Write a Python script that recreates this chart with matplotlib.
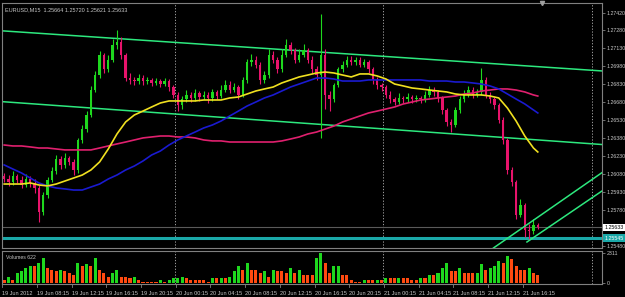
import numpy as np
import matplotlib.pyplot as plt
from matplotlib.transforms import blended_transform_factory

plt.rcParams['font.family'] = ['Liberation Sans', 'DejaVu Sans']

# EURUSD M15 - velas (cada vela del grafico agrupa dos barras de 15 min)
opens = [1.2606, 1.2604, 1.2601, 1.2606, 1.2603, 1.2599, 1.2604, 1.2600, 1.2596, 1.2576,
         1.2590, 1.2603, 1.2610, 1.2620, 1.2615, 1.2621, 1.2618, 1.2611, 1.2636, 1.2645,
         1.2657, 1.2678, 1.2690, 1.2707, 1.2695, 1.2703, 1.2715, 1.2718, 1.2707, 1.2688,
         1.2686, 1.2685, 1.2688, 1.2685, 1.2686, 1.2684, 1.2685, 1.2683, 1.2685, 1.2680,
         1.2674, 1.2665, 1.2670, 1.2674, 1.2671, 1.2675, 1.2672, 1.2674, 1.2671, 1.2676,
         1.2673, 1.2678, 1.2682, 1.2678, 1.2680, 1.2674, 1.2686, 1.2701, 1.2703, 1.2699,
         1.2686, 1.2690, 1.2707, 1.2703, 1.2695, 1.2707, 1.2715, 1.2711, 1.2703, 1.2707,
         1.2711, 1.2703, 1.2695, 1.2690, 1.2707, 1.2674, 1.2670, 1.2682, 1.2695, 1.2699,
         1.2703, 1.2701, 1.2703, 1.2699, 1.2701, 1.2695, 1.2686, 1.2682, 1.2680, 1.2674,
         1.2670, 1.2668, 1.2671, 1.2670, 1.2672, 1.2670, 1.2671, 1.2670, 1.2674, 1.2678,
         1.2676, 1.2671, 1.2661, 1.2651, 1.2649, 1.2661, 1.2670, 1.2674, 1.2678, 1.2674,
         1.2676, 1.2686, 1.2674, 1.2670, 1.2665, 1.2653, 1.2636, 1.2611, 1.2601, 1.2574,
         1.2582, 1.2561, 1.2560, 1.2565]
closes = [1.2604, 1.2601, 1.2606, 1.2603, 1.2599, 1.2604, 1.2600, 1.2596, 1.2576, 1.2590,
          1.2603, 1.2610, 1.2620, 1.2615, 1.2621, 1.2618, 1.2611, 1.2636, 1.2645, 1.2657,
          1.2678, 1.2690, 1.2707, 1.2695, 1.2703, 1.2715, 1.2718, 1.2707, 1.2688, 1.2686,
          1.2685, 1.2688, 1.2685, 1.2686, 1.2684, 1.2685, 1.2683, 1.2685, 1.2680, 1.2674,
          1.2665, 1.2670, 1.2674, 1.2671, 1.2675, 1.2672, 1.2674, 1.2671, 1.2676, 1.2673,
          1.2678, 1.2682, 1.2678, 1.2680, 1.2674, 1.2686, 1.2701, 1.2703, 1.2699, 1.2686,
          1.2690, 1.2707, 1.2703, 1.2695, 1.2707, 1.2715, 1.2711, 1.2703, 1.2707, 1.2711,
          1.2703, 1.2695, 1.2690, 1.2707, 1.2674, 1.2670, 1.2682, 1.2695, 1.2699, 1.2703,
          1.2701, 1.2703, 1.2699, 1.2701, 1.2695, 1.2686, 1.2682, 1.2680, 1.2674, 1.2670,
          1.2668, 1.2671, 1.2670, 1.2672, 1.2670, 1.2671, 1.2670, 1.2674, 1.2678, 1.2676,
          1.2671, 1.2661, 1.2651, 1.2649, 1.2661, 1.2670, 1.2674, 1.2678, 1.2674, 1.2676,
          1.2686, 1.2674, 1.2670, 1.2665, 1.2653, 1.2636, 1.2611, 1.2601, 1.2574, 1.2582,
          1.2561, 1.2560, 1.2565, 1.25633]
highs = [1.2609, 1.2607, 1.2610, 1.2608, 1.2606, 1.2608, 1.2606, 1.2604, 1.2599, 1.2593,
         1.2605, 1.2614, 1.2624, 1.2623, 1.2625, 1.2623, 1.2620, 1.2638, 1.2649, 1.2660,
         1.2681, 1.2694, 1.2710, 1.2709, 1.2707, 1.2720, 1.2728, 1.2722, 1.2709, 1.2692,
         1.2689, 1.2691, 1.2690, 1.2689, 1.2688, 1.2688, 1.2687, 1.2688, 1.2687, 1.2682,
         1.2676, 1.2673, 1.2678, 1.2676, 1.2679, 1.2677, 1.2677, 1.2676, 1.2679, 1.2678,
         1.2682, 1.2686, 1.2685, 1.2684, 1.2682, 1.2689, 1.2704, 1.2708, 1.2706, 1.2701,
         1.2694, 1.2712, 1.2710, 1.2705, 1.2712, 1.2720, 1.2718, 1.2713, 1.2712, 1.2716,
         1.2713, 1.2706, 1.2698, 1.2741, 1.2712, 1.2677, 1.2684, 1.2697, 1.2702, 1.2706,
         1.2706, 1.2705, 1.2705, 1.2704, 1.2703, 1.2697, 1.2689, 1.2684, 1.2682, 1.2677,
         1.2672, 1.2675, 1.2673, 1.2675, 1.2674, 1.2674, 1.2673, 1.2677, 1.2681, 1.2680,
         1.2678, 1.2673, 1.2663, 1.2654, 1.2664, 1.2673, 1.2678, 1.2681, 1.2680, 1.2679,
         1.2696, 1.2689, 1.2676, 1.2672, 1.2667, 1.2655, 1.2638, 1.2614, 1.2603, 1.2587,
         1.2584, 1.2566, 1.2570, 1.2567]
lows = [1.2601, 1.2598, 1.2599, 1.2600, 1.2596, 1.2597, 1.2597, 1.2592, 1.2568, 1.2574,
        1.2588, 1.2601, 1.2608, 1.2612, 1.2613, 1.2615, 1.2607, 1.2609, 1.2634, 1.2643,
        1.2655, 1.2676, 1.2688, 1.2692, 1.2693, 1.2701, 1.2712, 1.2704, 1.2685, 1.2683,
        1.2682, 1.2683, 1.2682, 1.2683, 1.2681, 1.2682, 1.2680, 1.2681, 1.2677, 1.2671,
        1.2660, 1.2662, 1.2668, 1.2668, 1.2669, 1.2669, 1.2670, 1.2667, 1.2669, 1.2670,
        1.2671, 1.2676, 1.2675, 1.2676, 1.2670, 1.2672, 1.2684, 1.2698, 1.2696, 1.2683,
        1.2684, 1.2688, 1.2700, 1.2692, 1.2693, 1.2705, 1.2708, 1.2700, 1.2701, 1.2705,
        1.2700, 1.2692, 1.2686, 1.2638, 1.2662, 1.2660, 1.2668, 1.2680, 1.2693, 1.2697,
        1.2699, 1.2699, 1.2697, 1.2697, 1.2692, 1.2683, 1.2679, 1.2677, 1.2671, 1.2667,
        1.2665, 1.2666, 1.2667, 1.2668, 1.2667, 1.2668, 1.2667, 1.2668, 1.2672, 1.2673,
        1.2668, 1.2658, 1.2648, 1.2643, 1.2647, 1.2659, 1.2668, 1.2672, 1.2671, 1.2672,
        1.2674, 1.2671, 1.2667, 1.2662, 1.2650, 1.2633, 1.2608, 1.2598, 1.2570, 1.2572,
        1.2555, 1.2553, 1.2558, 1.2562]
volumes = [300, 530, 300, 760, 910, 1210, 1360, 1290, 1590, 1970,
           1140, 990, 910, 990, 910, 830, 680, 1590, 1360, 1440,
           1290, 1970, 990, 760, 530, 760, 990, 530, 530, 450,
           530, 230, 150, 150, 150, 150, 230, 150, 300, 380,
           450, 530, 450, 300, 300, 230, 230, 150, 380, 380,
           450, 450, 530, 910, 1290, 990, 1590, 1060, 1060, 760,
           910, 530, 1060, 910, 910, 830, 1210, 760, 1060, 680,
           680, 680, 1900, 2311, 1520, 760, 1290, 1360, 680, 680,
           230, 150, 150, 230, 230, 230, 300, 300, 450, 450,
           380, 450, 450, 380, 300, 300, 380, 380, 610, 610,
           760, 1140, 1590, 910, 910, 1140, 760, 760, 760, 830,
           1440, 990, 1140, 1290, 1740, 1590, 2050, 1890, 1290, 1060,
           1060, 1140, 760, 622]

# medias moviles (cada 2 velas y la ultima)
ma_idx = list(range(0, 123, 2)) + [123]
ma_fast = [1.25995, 1.25995, 1.25995, 1.26004, 1.25987, 1.25979, 1.25995, 1.26020, 1.26045, 1.26070,
           1.26112, 1.26179, 1.26287, 1.26412, 1.26512, 1.26570, 1.26603, 1.26637, 1.26670, 1.26687,
           1.26687, 1.26687, 1.26687, 1.26695, 1.26695, 1.26695, 1.26712, 1.26720, 1.26745, 1.26770,
           1.26787, 1.26803, 1.26837, 1.26862, 1.26887, 1.26903, 1.26920, 1.26928, 1.26920, 1.26903,
           1.26887, 1.26912, 1.26912, 1.26895, 1.26870, 1.26828, 1.26812, 1.26795, 1.26787, 1.26778,
           1.26770, 1.26762, 1.26745, 1.26737, 1.26737, 1.26737, 1.26728, 1.26712, 1.26628, 1.26520,
           1.26395, 1.26295, 1.26262]
ma_mid = [1.26154, 1.26120, 1.26087, 1.26045, 1.26004, 1.25979, 1.25962, 1.25954, 1.25945, 1.25945,
          1.25970, 1.25995, 1.26037, 1.26070, 1.26112, 1.26145, 1.26187, 1.26237, 1.26270, 1.26320,
          1.26362, 1.26395, 1.26428, 1.26462, 1.26487, 1.26520, 1.26562, 1.26603, 1.26645, 1.26678,
          1.26712, 1.26737, 1.26770, 1.26803, 1.26828, 1.26853, 1.26878, 1.26878, 1.26870, 1.26853,
          1.26853, 1.26853, 1.26862, 1.26862, 1.26862, 1.26862, 1.26862, 1.26862, 1.26862, 1.26853,
          1.26853, 1.26853, 1.26845, 1.26845, 1.26837, 1.26828, 1.26812, 1.26787, 1.26745, 1.26703,
          1.26662, 1.26612, 1.26587]
ma_slow = [1.26320, 1.26312, 1.26312, 1.26304, 1.26295, 1.26295, 1.26287, 1.26279, 1.26279, 1.26279,
           1.26279, 1.26295, 1.26312, 1.26329, 1.26345, 1.26362, 1.26379, 1.26387, 1.26395, 1.26395,
           1.26387, 1.26387, 1.26379, 1.26362, 1.26354, 1.26354, 1.26345, 1.26345, 1.26345, 1.26345,
           1.26345, 1.26345, 1.26354, 1.26370, 1.26387, 1.26412, 1.26428, 1.26453, 1.26478, 1.26512,
           1.26537, 1.26562, 1.26587, 1.26603, 1.26620, 1.26637, 1.26662, 1.26678, 1.26695, 1.26703,
           1.26712, 1.26720, 1.26728, 1.26745, 1.26753, 1.26770, 1.26778, 1.26787, 1.26787, 1.26778,
           1.26762, 1.26737, 1.26728]

# lineas de tendencia: (vela, precio) de cada ancla
chan_top = [(0, 1.2727), (120, 1.2698)]
chan_bottom = [(0, 1.2668), (120, 1.2637)]
up_line1 = [(112.7, 1.2546), (137.8, 1.2609)]
up_line2 = [(120.5, 1.25512), (137.8, 1.25937)]
bid_price = 1.25633
level_price = 1.25545

day_breaks = [39.4, 87.4, 135.4]
price_ticks = [1.27420, 1.27280, 1.27130, 1.26980, 1.26830, 1.26680, 1.26530,
               1.26380, 1.26230, 1.26080, 1.25930, 1.25780, 1.25480]
time_labels = ["19 Jun 2012", "19 Jun 08:15", "19 Jun 12:15", "19 Jun 16:15",
               "19 Jun 20:15", "20 Jun 00:15", "20 Jun 04:15", "20 Jun 08:15",
               "20 Jun 12:15", "20 Jun 16:15", "20 Jun 20:15", "21 Jun 00:15",
               "21 Jun 04:15", "21 Jun 08:15", "21 Jun 12:15", "21 Jun 16:15"]

fg = '#c8c8c8'
frame = '#808080'
bull = '#1ed81e'
bear = '#e8136b'

fig = plt.figure(figsize=(6.25, 2.97), dpi=100, facecolor='black')
ax = fig.add_axes([2 / 625, 1 - 248 / 297, 600 / 625, 245 / 297], facecolor='black')
axv = fig.add_axes([2 / 625, 1 - 284 / 297, 600 / 625, 33 / 297], facecolor='black')

n = len(closes)
x = np.arange(n)
o = np.array(opens)
c = np.array(closes)
up = c >= o
cols = np.where(up, bull, bear)

# velas
ax.vlines(x, lows, highs, colors=cols, lw=0.8, zorder=3)
ax.bar(x, np.maximum(np.abs(c - o), 0.00003), bottom=np.minimum(o, c), width=0.55,
       color=cols, linewidth=0, zorder=4)

# medias moviles
ax.plot(ma_idx, ma_slow, color='#e0206e', lw=1.2, zorder=5)
ax.plot(ma_idx, ma_mid, color='#1a1ad0', lw=1.2, zorder=5)
ax.plot(ma_idx, ma_fast, color='#f0e020', lw=1.2, zorder=5)

# canal y lineas alcistas
chan_col = '#2de87e'
ax.axline(chan_top[0], chan_top[1], color=chan_col, lw=1.1, zorder=2)
ax.axline(chan_bottom[0], chan_bottom[1], color=chan_col, lw=1.1, zorder=2)
ax.axline(up_line1[0], up_line1[1], color=chan_col, lw=1.1, zorder=6)
ax.plot([p[0] for p in up_line2], [p[1] for p in up_line2], color=chan_col, lw=1.1, zorder=6)

# niveles horizontales
ax.axhline(bid_price, color='#5a5a5a', lw=0.8, zorder=1)
ax.axhline(level_price, color='#1aa8a8', lw=2.2, zorder=1)

ax.set_xlim(-0.5, 137.8)
ax.set_ylim(1.25462, 1.27503)
axv.set_xlim(-0.5, 137.8)
axv.set_ylim(-38, 2463)

for d in day_breaks:
    for a in (ax, axv):
        a.axvline(d, color='#b4b4b4', lw=0.6, ls=(0, (1.5, 2)), zorder=0)

# volumenes: verde si sube respecto a la barra anterior
vol = np.array(volumes)
vcols = [bull if i > 0 and vol[i] > vol[i - 1] else '#ff4a10' for i in range(n)]
axv.bar(x, vol, width=0.7, color=vcols, linewidth=0)

for a in (ax, axv):
    for s in a.spines.values():
        s.set_color(frame)
        s.set_linewidth(0.8)
    a.set_xticks([])
    a.yaxis.tick_right()
    a.tick_params(axis='y', colors=frame, labelcolor=fg, labelsize=3.8, length=2,
                  width=0.6, pad=1.5)

ax.set_yticks(price_ticks)
ax.set_yticklabels([f"{p:.5f}" for p in price_ticks])
axv.set_yticks([0, 2311])
axv.set_yticklabels(["0", "2311"])

# etiquetas de precio a la derecha
ax.text(1.004, bid_price, f"{bid_price:.5f}", transform=ax.get_yaxis_transform(),
        fontsize=3.8, color='black', va='center', ha='left',
        bbox=dict(boxstyle='square,pad=0.2', fc='white', ec='none'))
ax.text(1.004, level_price, f"{level_price:.5f}", transform=ax.get_yaxis_transform(),
        fontsize=3.8, color='white', va='center', ha='left',
        bbox=dict(boxstyle='square,pad=0.2', fc='#1aa8a8', ec='none'))

# marcador de desplazamiento del grafico
ax.plot([124], [1.27503], marker='v', color='#a0a0a0', ms=3, clip_on=False, zorder=7)

# titulo y etiquetas de tiempo
fig.text(5 / 625, 1 - 10 / 297, "EURUSD,M15  1.25664 1.25720 1.25621 1.25633",
         fontsize=4.0, color=fg, va='center', ha='left')
axv.text(0.006, 0.8, "Volumes 622", transform=axv.transAxes, fontsize=3.7,
         color=fg, va='center', ha='left')

tr = blended_transform_factory(axv.transData, axv.transAxes)
for k, lab in enumerate(time_labels):
    xp = 8 * k - 0.45
    axv.plot([xp, xp], [0, -0.08], color=frame, lw=0.6, transform=tr, clip_on=False)
    axv.text(xp, -0.2, lab, transform=tr, fontsize=4.0, color=fg, va='top', ha='left')

fig.savefig("out.png", dpi=100, facecolor='black')
